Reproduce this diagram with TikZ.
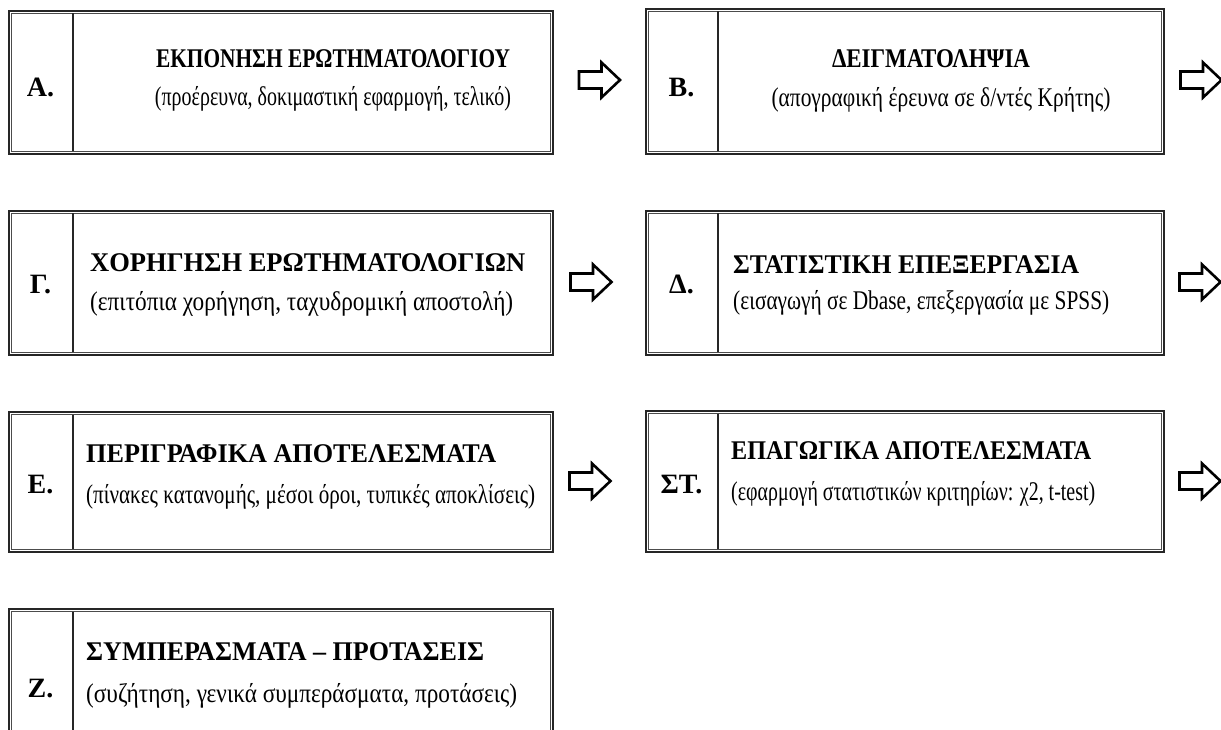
\documentclass[tikz,border=0pt]{standalone}
\usepackage{fontspec}
\setmainfont{Liberation Serif}
\usetikzlibrary{calc}
\newcommand\fitw[2]{\resizebox{#1}{\height}{#2}}
\tikzset{
  stepbox/.style={draw=black!85, line width=1.7pt, inner sep=0pt, anchor=north west},
  innerline/.style={draw=black!70, line width=0.8pt},
  divline/.style={draw=black!85, line width=1.2pt},
  idtext/.style={font=\fontsize{28}{30}\selectfont\bfseries, inner sep=0pt, anchor=base},
  titletext/.style={font=\fontsize{27}{30}\selectfont\bfseries, inner sep=0pt},
  subtext/.style={font=\fontsize{27}{30}\selectfont, inner sep=0pt},
  arrowline/.style={draw=black, line width=2.6pt, fill=white, line join=miter},
}
\newcommand\innerframe[1]{%
  \draw[innerline] ([shift={(3.5,3.5)}]#1.north west) rectangle ([shift={(-3.5,-3.5)}]#1.south east);}
\newcommand\divider[2]{%
  \draw[divline] ([shift={(#2,3.5)}]#1.north west) -- ([shift={(#2,-3.5)}]#1.south west);}
\newcommand\blockarrow[2]{%
  \coordinate (#1) at #2;
  \draw[arrowline] ($(#1)+(-20.5,-8.5)$) -- ++(22.5,0) -- ++(0,-9) -- ++(18.5,17.5)
    -- ++(-18.5,17.5) -- ++(0,-9) -- ++(-22.5,0) -- cycle;}
\begin{document}
\begin{tikzpicture}[x=1pt,y=-1pt]
\useasboundingbox[fill=white] (0,0) rectangle (1221,730);
\clip (0,0) rectangle (1221,730);

% ---------- Row 1 ----------
\node[stepbox, minimum width=544pt, minimum height=143pt] (boxA) at (8,10) {};
\innerframe{boxA}\divider{boxA}{65}
\node[idtext] (idA) at (40.5,97) {Α.};
\node[titletext, anchor=base] (titA) at (333,68) {\fitw{354pt}{ΕΚΠΟΝΗΣΗ ΕΡΩΤΗΜΑΤΟΛΟΓΙΟΥ}};
\node[subtext, anchor=base] (subA) at (333,106) {\fitw{356pt}{(προέρευνα, δοκιμαστική εφαρμογή, τελικό)}};

\node[stepbox, minimum width=518pt, minimum height=145pt] (boxB) at (645,8) {};
\innerframe{boxB}\divider{boxB}{73}
\node[idtext] (idB) at (681.5,97) {Β.};
\node[titletext, anchor=base] (titB) at (931,68) {\fitw{198pt}{ΔΕΙΓΜΑΤΟΛΗΨΙΑ}};
\node[subtext, anchor=base] (subB) at (941,107) {\fitw{339pt}{(απογραφική έρευνα σε δ/ντές Κρήτης)}};

\blockarrow{arAB}{(599.5,80)}
\blockarrow{arBG}{(1201,80)}

% ---------- Row 2 ----------
\node[stepbox, minimum width=544pt, minimum height=144pt] (boxG) at (8,210) {};
\innerframe{boxG}\divider{boxG}{65}
\node[idtext] (idG) at (40.5,294) {Γ.};
\node[titletext, anchor=base west] (titG) at (90,272) {\fitw{435pt}{ΧΟΡΗΓΗΣΗ ΕΡΩΤΗΜΑΤΟΛΟΓΙΩΝ}};
\node[subtext, anchor=base west] (subG) at (90,310) {\fitw{423pt}{(επιτόπια χορήγηση, ταχυδρομική αποστολή)}};

\node[stepbox, minimum width=518pt, minimum height=144pt] (boxD) at (645,210) {};
\innerframe{boxD}\divider{boxD}{73}
\node[idtext] (idD) at (681.5,294) {Δ.};
\node[titletext, anchor=base west] (titD) at (733,273) {\fitw{346pt}{ΣΤΑΤΙΣΤΙΚΗ ΕΠΕΞΕΡΓΑΣΙΑ}};
\node[subtext, anchor=base west] (subD) at (733,309) {\fitw{376pt}{(εισαγωγή σε Dbase, επεξεργασία με SPSS)}};

\blockarrow{arGD}{(591,282)}
\blockarrow{arDE}{(1200,282)}

% ---------- Row 3 ----------
\node[stepbox, minimum width=544pt, minimum height=140pt] (boxE) at (8,411) {};
\innerframe{boxE}\divider{boxE}{65}
\node[idtext] (idE) at (40.5,493) {Ε.};
\node[titletext, anchor=base west] (titE) at (86,462) {\fitw{410pt}{ΠΕΡΙΓΡΑΦΙΚΑ ΑΠΟΤΕΛΕΣΜΑΤΑ}};
\node[subtext, anchor=base west] (subE) at (86,503) {\fitw{449pt}{(πίνακες κατανομής, μέσοι όροι, τυπικές αποκλίσεις)}};

\node[stepbox, minimum width=518pt, minimum height=141pt] (boxS) at (645,410) {};
\innerframe{boxS}\divider{boxS}{73}
\node[idtext] (idS) at (681.5,493) {ΣΤ.};
\node[titletext, anchor=base west] (titS) at (731,459) {\fitw{360pt}{ΕΠΑΓΩΓΙΚΑ ΑΠΟΤΕΛΕΣΜΑΤΑ}};
\node[subtext, anchor=base west] (subS) at (731,500) {\fitw{364pt}{(εφαρμογή στατιστικών κριτηρίων: χ2, t-test)}};

\blockarrow{arES}{(590,481)}
\blockarrow{arSZ}{(1200,481)}

% ---------- Row 4 ----------
\node[stepbox, minimum width=544pt, minimum height=144pt] (boxZ) at (8,608) {};
\innerframe{boxZ}\divider{boxZ}{65}
\node[idtext] (idZ) at (40.5,697) {Ζ.};
\node[titletext, anchor=base west] (titZ) at (86,660) {\fitw{398pt}{ΣΥΜΠΕΡΑΣΜΑΤΑ – ΠΡΟΤΑΣΕΙΣ}};
\node[subtext, anchor=base west] (subZ) at (86,702) {\fitw{431pt}{(συζήτηση, γενικά συμπεράσματα, προτάσεις)}};
\end{tikzpicture}
\end{document}
